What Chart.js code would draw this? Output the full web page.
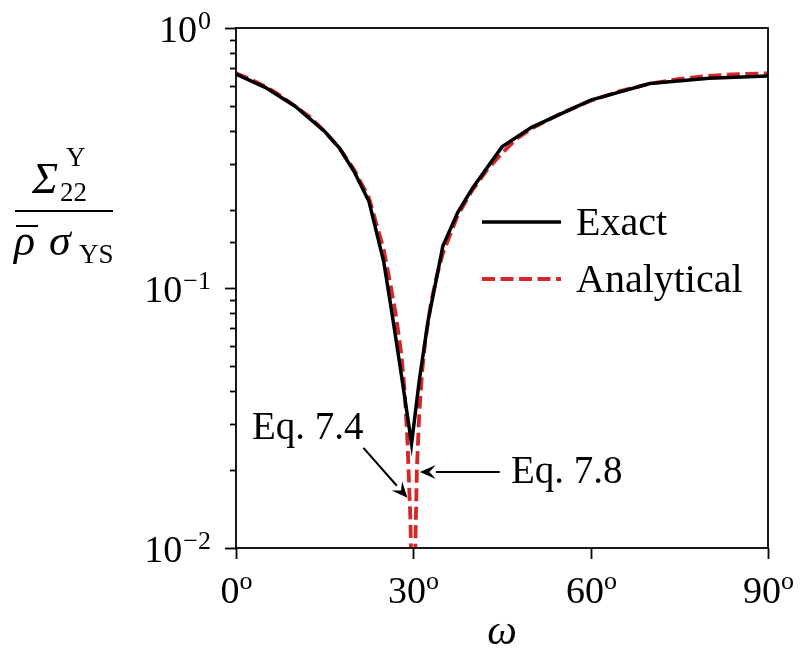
<!DOCTYPE html>
<html>
<head>
<meta charset="utf-8">
<script src="https://cdn.jsdelivr.net/npm/chart.js@4.4.1/dist/chart.umd.min.js"></script>
<style>
  html, body { margin: 0; padding: 0; background: #fff; }
  #wrap { width: 804px; height: 661px; position: relative; }
</style>
</head>
<body>
<div id="wrap"><canvas id="chart"></canvas></div>
<script>
// omega in degrees, values of Sigma22 / (rho sigma_YS)
const omegaExact = [0, 5, 10, 15, 17.5, 20, 22.5, 25, 26.5, 28, 29.7, 31, 32.5, 35, 37.5, 40, 45, 50, 60, 70, 80, 90];
const exactVals = [0.665, 0.59, 0.50, 0.40, 0.345, 0.28, 0.215, 0.126, 0.077, 0.046, 0.0252, 0.044, 0.075, 0.145, 0.195, 0.242, 0.349, 0.415, 0.528, 0.612, 0.641, 0.653];

const omegaAnalytical = [0, 2.5, 5, 7.5, 10, 12.5, 15, 17.5, 20, 22.5, 25, 26, 27, 28, 28.5, 29, 29.5, 29.8, 30, 30.2, 30.4, 30.6, 31, 31.5, 32, 33, 34, 35, 37.5, 40, 42.5, 45, 47.5, 50, 55, 60, 65, 70, 75, 80, 85, 90];
const analyticalVals = [0.67, 0.635, 0.595, 0.55, 0.50, 0.455, 0.40, 0.345, 0.285, 0.222, 0.14, 0.107, 0.08, 0.055, 0.041, 0.026, 0.013, 0.006, 0.0001, 0.006, 0.012, 0.02, 0.033, 0.048, 0.062, 0.088, 0.112, 0.136, 0.19, 0.238, 0.285, 0.33, 0.375, 0.41, 0.47, 0.525, 0.572, 0.61, 0.637, 0.655, 0.665, 0.669];

const seriesNames = ['Exact', 'Analytical'];
const xTickVals = [0, 30, 60, 90];
const yTickVals = [0.01, 0.1, 1];
const yTickExps = ['\u22122', '\u22121', '0'];

// arrow tips in data coords
const noteLabels = ['Eq. 7.4', 'Eq. 7.8'];
const noteTips = [[29.0, 0.0156], [31.1, 0.0196]];

const SERIF = '"Liberation Serif", "DejaVu Serif", serif';

function toPoints(xs, ys) {
  return xs.map((x, i) => ({ x: x, y: ys[i] }));
}

function arrow(ctx, x1, y1, x2, y2) {
  const a = Math.atan2(y2 - y1, x2 - x1);
  const hl = 16, hw = 7;
  const bx = x2 - hl * Math.cos(a), by = y2 - hl * Math.sin(a);
  ctx.beginPath();
  ctx.moveTo(x1, y1);
  ctx.lineTo(bx, by);
  ctx.stroke();
  ctx.beginPath();
  ctx.moveTo(x2, y2);
  ctx.lineTo(bx + hw * Math.sin(a), by - hw * Math.cos(a));
  ctx.lineTo(x2 - 0.6 * hl * Math.cos(a), y2 - 0.6 * hl * Math.sin(a));
  ctx.lineTo(bx - hw * Math.sin(a), by + hw * Math.cos(a));
  ctx.closePath();
  ctx.fill();
}

const decorations = {
  id: 'decorations',
  afterDraw(chart) {
    const ctx = chart.ctx;
    const area = chart.chartArea;
    const xs = chart.scales.x, ys = chart.scales.y;
    ctx.save();
    ctx.strokeStyle = '#000';
    ctx.fillStyle = '#000';

    // frame
    ctx.lineWidth = 1.8;
    ctx.strokeRect(area.left, area.top, area.right - area.left, area.bottom - area.top);

    // y ticks (major + minor from the log scale)
    ys.ticks.forEach(t => {
      const lg = Math.log10(t.value);
      const major = Math.abs(lg - Math.round(lg)) < 1e-9;
      const py = Math.round(ys.getPixelForValue(t.value)) + 0.5;
      ctx.beginPath();
      ctx.moveTo(area.left, py);
      ctx.lineTo(area.left - (major ? 11 : 6), py);
      ctx.stroke();
    });

    // y tick labels 10^n
    ctx.textBaseline = 'alphabetic';
    yTickVals.forEach((v, i) => {
      const py = ys.getPixelForValue(v);
      ctx.font = '26px ' + SERIF;
      ctx.textAlign = 'right';
      const expW = ctx.measureText(yTickExps[i]).width;
      ctx.fillText(yTickExps[i], 211, py + 1);
      ctx.font = '38px ' + SERIF;
      ctx.fillText('10', 211 - expW - 1, py + 14);
    });

    // x ticks and labels
    xTickVals.forEach(v => {
      const px = Math.round(xs.getPixelForValue(v)) + 0.5;
      ctx.beginPath();
      ctx.moveTo(px, area.bottom);
      ctx.lineTo(px, area.bottom + 11);
      ctx.stroke();
      const num = String(v);
      ctx.font = '38px ' + SERIF;
      const nw = ctx.measureText(num).width;
      ctx.font = '26px ' + SERIF;
      const ow = ctx.measureText('o').width;
      const left = px - (nw + ow) / 2;
      ctx.textAlign = 'left';
      ctx.font = '38px ' + SERIF;
      ctx.fillText(num, left, area.bottom + 55);
      ctx.font = '26px ' + SERIF;
      ctx.fillText('o', left + nw, area.bottom + 41);
    });

    // x axis title
    ctx.textAlign = 'center';
    ctx.font = 'italic 42px ' + SERIF;
    ctx.fillText('\u03C9', (area.left + area.right) / 2, 644);

    // y axis title: fraction
    ctx.textAlign = 'left';
    ctx.font = 'italic 44px ' + SERIF;
    ctx.fillText('\u03A3', 32, 193);
    ctx.font = '27px ' + SERIF;
    ctx.fillText('Y', 66, 166);
    ctx.fillText('22', 60, 201);
    ctx.lineWidth = 2;
    ctx.beginPath();
    ctx.moveTo(15, 211);
    ctx.lineTo(113, 211);
    ctx.stroke();
    ctx.font = 'italic 44px ' + SERIF;
    ctx.fillText('\u03C1', 14, 255);
    ctx.fillText('\u03C3', 49, 255);
    ctx.beginPath();
    ctx.moveTo(16, 226);
    ctx.lineTo(38, 226);
    ctx.stroke();
    ctx.font = '27px ' + SERIF;
    ctx.fillText('YS', 79, 263);

    // legend
    const ds = chart.data.datasets;
    const legY = [222, 279];
    ds.forEach((d, i) => {
      ctx.strokeStyle = d.borderColor;
      ctx.lineWidth = d.borderWidth;
      ctx.setLineDash(d.borderDash || []);
      ctx.beginPath();
      ctx.moveTo(482, legY[i]);
      ctx.lineTo(561, legY[i]);
      ctx.stroke();
      ctx.setLineDash([]);
      ctx.fillStyle = '#000';
      ctx.font = '40px ' + SERIF;
      ctx.textAlign = 'left';
      ctx.fillText(seriesNames[i], 576, legY[i] + 13);
    });

    // annotations
    ctx.strokeStyle = '#000';
    ctx.fillStyle = '#000';
    ctx.lineWidth = 2;
    const t1 = [xs.getPixelForValue(noteTips[0][0]), ys.getPixelForValue(noteTips[0][1])];
    const t2 = [xs.getPixelForValue(noteTips[1][0]), ys.getPixelForValue(noteTips[1][1])];
    arrow(ctx, t1[0] - 44, t1[1] - 50, t1[0], t1[1]);
    arrow(ctx, t2[0] + 80, t2[1], t2[0], t2[1]);
    ctx.font = '39px ' + SERIF;
    ctx.textAlign = 'left';
    ctx.fillText(noteLabels[0], 252, 439);
    ctx.fillText(noteLabels[1], 511, 483);

    ctx.restore();
  }
};

new Chart(document.getElementById('chart'), {
  type: 'line',
  data: {
    datasets: [
      {
        label: seriesNames[0],
        data: toPoints(omegaExact, exactVals),
        borderColor: '#000000',
        borderWidth: 3.5,
        pointRadius: 0,
        tension: 0,
        clip: 0,
      },
      {
        label: seriesNames[1],
        data: toPoints(omegaAnalytical, analyticalVals),
        borderColor: '#d62728',
        borderWidth: 3.8,
        borderDash: [13, 5.5],
        pointRadius: 0,
        tension: 0,
        clip: 0,
      },
    ],
  },
  options: {
    responsive: true,
    maintainAspectRatio: false,
    animation: false,
    devicePixelRatio: 1,
    layout: { padding: { left: 236, top: 28, right: 36, bottom: 113 } },
    plugins: { legend: { display: false }, tooltip: { enabled: false } },
    scales: {
      x: {
        type: 'linear',
        min: 0,
        max: 90,
        grid: { display: false, drawTicks: false },
        border: { display: false },
        ticks: { display: false },
      },
      y: {
        type: 'logarithmic',
        min: 0.01,
        max: 1,
        grid: { display: false, drawTicks: false },
        border: { display: false },
        ticks: { display: false },
      },
    },
  },
  plugins: [decorations],
});
</script>
</body>
</html>
